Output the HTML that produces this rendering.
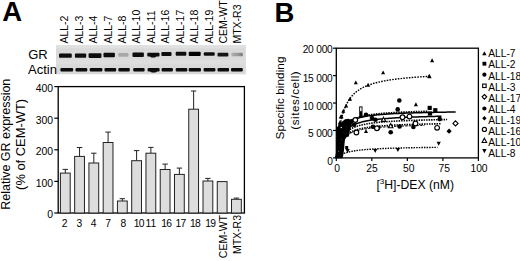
<!DOCTYPE html>
<html><head><meta charset="utf-8"><style>
html,body{margin:0;padding:0;background:#fff;width:520px;height:261px;overflow:hidden}
svg{display:block}
text{font-family:'Liberation Sans', sans-serif;fill:#000}
</style></head><body>
<svg width="520" height="261" viewBox="0 0 520 261">
<defs>
<filter id="bl" x="-20%" y="-50%" width="140%" height="200%"><feGaussianBlur stdDeviation="0.6"/></filter>
<filter id="bl2" x="-20%" y="-50%" width="140%" height="200%"><feGaussianBlur stdDeviation="0.3"/></filter>
<linearGradient id="mtx" x1="0" x2="1" y1="0" y2="0"><stop offset="0" stop-color="#b0b0b0"/><stop offset="0.6" stop-color="#989898"/><stop offset="1" stop-color="#777"/></linearGradient>
</defs>

<text x="2.2" y="21.0" font-size="27.5" font-weight="bold">A</text>
<text transform="translate(68.30,43.6) rotate(-90)" font-size="10.5">ALL-2</text>
<text transform="translate(82.72,43.6) rotate(-90)" font-size="10.5">ALL-3</text>
<text transform="translate(97.14,43.6) rotate(-90)" font-size="10.5">ALL-4</text>
<text transform="translate(111.56,43.6) rotate(-90)" font-size="10.5">ALL-7</text>
<text transform="translate(125.98,43.6) rotate(-90)" font-size="10.5">ALL-8</text>
<text transform="translate(140.40,43.6) rotate(-90)" font-size="10.5">ALL-10</text>
<text transform="translate(154.82,43.6) rotate(-90)" font-size="10.5">ALL-11</text>
<text transform="translate(169.24,43.6) rotate(-90)" font-size="10.5">ALL-16</text>
<text transform="translate(183.66,43.6) rotate(-90)" font-size="10.5">ALL-17</text>
<text transform="translate(198.08,43.6) rotate(-90)" font-size="10.5">ALL-18</text>
<text transform="translate(212.50,43.6) rotate(-90)" font-size="10.5">ALL-19</text>
<text transform="translate(226.92,43.6) rotate(-90)" font-size="10.5">CEM-WT</text>
<text transform="translate(241.34,43.6) rotate(-90)" font-size="10.5">MTX-R3</text>
<rect x="56" y="45.3" width="189.8" height="29" fill="#d9d9d9"/>
<rect x="56" y="45.3" width="189.8" height="3" fill="#e0e0e0"/><rect x="56" y="59.5" width="189.8" height="5" fill="#dedede"/>
<text x="28.2" y="59.4" font-size="13">GR</text>
<text x="28.0" y="73.5" font-size="13">Actin</text>
<rect x="59" y="53.45" width="12.80" height="4.30" rx="1.0" fill="#0a0a0a" filter="url(#bl2)"/>
<rect x="74.9" y="53.45" width="11.30" height="4.30" rx="1.0" fill="#0a0a0a" filter="url(#bl2)"/>
<rect x="88.6" y="53.15" width="12.80" height="4.80" rx="1.0" fill="#0a0a0a" filter="url(#bl2)"/>
<rect x="103.5" y="52.75" width="11.40" height="4.50" rx="1.0" fill="#080808" filter="url(#bl2)"/>
<rect x="118.4" y="53.05" width="10.10" height="3.70" rx="1.0" fill="#a8a8a8" filter="url(#bl2)"/>
<rect x="132.5" y="52.45" width="11.40" height="4.60" rx="1.0" fill="#0a0a0a" filter="url(#bl2)"/>
<rect x="147.3" y="52.75" width="12.20" height="3.70" rx="1.0" fill="#0a0a0a" filter="url(#bl2)"/>
<rect x="161.4" y="52.05" width="10.10" height="4.00" rx="1.0" fill="#0a0a0a" filter="url(#bl2)"/>
<rect x="175.7" y="51.85" width="10.60" height="3.90" rx="1.0" fill="#0a0a0a" filter="url(#bl2)"/>
<rect x="188.7" y="51.65" width="12.00" height="4.40" rx="1.0" fill="#050505" filter="url(#bl2)"/>
<rect x="203.8" y="52.25" width="10.90" height="3.50" rx="1.0" fill="#111" filter="url(#bl2)"/>
<rect x="217.5" y="52.65" width="10.90" height="3.90" rx="1.0" fill="#151515" filter="url(#bl2)"/>
<rect x="231.3" y="52.85" width="11.50" height="3.50" rx="1.0" fill="url(#mtx)" filter="url(#bl2)"/>
<rect x="60.4" y="67.9" width="12.80" height="3.7" rx="1.1" fill="#0a0a0a" filter="url(#bl2)"/>
<rect x="75.5" y="67.9" width="11.80" height="3.7" rx="1.1" fill="#0a0a0a" filter="url(#bl2)"/>
<rect x="89.7" y="67.9" width="12.70" height="3.7" rx="1.1" fill="#0a0a0a" filter="url(#bl2)"/>
<rect x="104.5" y="67.9" width="11.70" height="3.7" rx="1.1" fill="#0a0a0a" filter="url(#bl2)"/>
<rect x="118.4" y="67.9" width="11.40" height="3.7" rx="1.1" fill="#0a0a0a" filter="url(#bl2)"/>
<rect x="133.2" y="67.9" width="11.40" height="3.7" rx="1.1" fill="#0a0a0a" filter="url(#bl2)"/>
<rect x="147.6" y="67.9" width="12.00" height="3.7" rx="1.1" fill="#0a0a0a" filter="url(#bl2)"/>
<rect x="161.6" y="67.9" width="11.30" height="3.7" rx="1.1" fill="#0a0a0a" filter="url(#bl2)"/>
<rect x="175.7" y="67.9" width="11.60" height="3.7" rx="1.1" fill="#0a0a0a" filter="url(#bl2)"/>
<rect x="188.7" y="67.9" width="12.30" height="3.7" rx="1.1" fill="#0a0a0a" filter="url(#bl2)"/>
<rect x="203.6" y="67.9" width="11.80" height="3.7" rx="1.1" fill="#0a0a0a" filter="url(#bl2)"/>
<rect x="217.5" y="67.9" width="11.60" height="3.7" rx="1.1" fill="#0a0a0a" filter="url(#bl2)"/>
<rect x="231" y="67.9" width="11.80" height="3.7" rx="1.1" fill="#0a0a0a" filter="url(#bl2)"/>
<ellipse cx="153.2" cy="56.0" rx="3.0" ry="1.6" fill="#0a0a0a" filter="url(#bl2)"/>
<ellipse cx="153.6" cy="71.3" rx="3.2" ry="1.3" fill="#0a0a0a" filter="url(#bl2)"/>
<rect x="58.2" y="86.6" width="186.2" height="126.40" fill="none" stroke="#000" stroke-width="1.3"/>
<line x1="54.3" y1="213.00" x2="58.2" y2="213.00" stroke="#000" stroke-width="1.2"/>
<text x="53" y="218.30" font-size="10.4" text-anchor="end">0</text>
<line x1="54.3" y1="181.40" x2="58.2" y2="181.40" stroke="#000" stroke-width="1.2"/>
<text x="53" y="186.70" font-size="10.4" text-anchor="end">100</text>
<line x1="54.3" y1="149.80" x2="58.2" y2="149.80" stroke="#000" stroke-width="1.2"/>
<text x="53" y="155.10" font-size="10.4" text-anchor="end">200</text>
<line x1="54.3" y1="118.20" x2="58.2" y2="118.20" stroke="#000" stroke-width="1.2"/>
<text x="53" y="123.50" font-size="10.4" text-anchor="end">300</text>
<line x1="54.3" y1="86.60" x2="58.2" y2="86.60" stroke="#000" stroke-width="1.2"/>
<text x="53" y="91.90" font-size="10.4" text-anchor="end">400</text>
<line x1="65.30" y1="169.40" x2="65.30" y2="173.10" stroke="#222" stroke-width="1"/>
<line x1="62.60" y1="169.40" x2="68.00" y2="169.40" stroke="#222" stroke-width="1"/>
<rect x="60.40" y="173.10" width="9.8" height="39.90" fill="#dddddd" stroke="#222" stroke-width="1"/>
<line x1="79.56" y1="147.50" x2="79.56" y2="156.40" stroke="#222" stroke-width="1"/>
<line x1="76.86" y1="147.50" x2="82.26" y2="147.50" stroke="#222" stroke-width="1"/>
<rect x="74.66" y="156.40" width="9.8" height="56.60" fill="#dddddd" stroke="#222" stroke-width="1"/>
<line x1="93.82" y1="153.20" x2="93.82" y2="163.00" stroke="#222" stroke-width="1"/>
<line x1="91.12" y1="153.20" x2="96.52" y2="153.20" stroke="#222" stroke-width="1"/>
<rect x="88.92" y="163.00" width="9.8" height="50.00" fill="#dddddd" stroke="#222" stroke-width="1"/>
<line x1="108.08" y1="132.10" x2="108.08" y2="142.50" stroke="#222" stroke-width="1"/>
<line x1="105.38" y1="132.10" x2="110.78" y2="132.10" stroke="#222" stroke-width="1"/>
<rect x="103.18" y="142.50" width="9.8" height="70.50" fill="#dddddd" stroke="#222" stroke-width="1"/>
<line x1="122.34" y1="198.70" x2="122.34" y2="201.00" stroke="#222" stroke-width="1"/>
<line x1="119.64" y1="198.70" x2="125.04" y2="198.70" stroke="#222" stroke-width="1"/>
<rect x="117.44" y="201.00" width="9.8" height="12.00" fill="#dddddd" stroke="#222" stroke-width="1"/>
<line x1="136.60" y1="150.60" x2="136.60" y2="160.70" stroke="#222" stroke-width="1"/>
<line x1="133.90" y1="150.60" x2="139.30" y2="150.60" stroke="#222" stroke-width="1"/>
<rect x="131.70" y="160.70" width="9.8" height="52.30" fill="#dddddd" stroke="#222" stroke-width="1"/>
<line x1="150.86" y1="147.40" x2="150.86" y2="153.20" stroke="#222" stroke-width="1"/>
<line x1="148.16" y1="147.40" x2="153.56" y2="147.40" stroke="#222" stroke-width="1"/>
<rect x="145.96" y="153.20" width="9.8" height="59.80" fill="#dddddd" stroke="#222" stroke-width="1"/>
<line x1="165.12" y1="164.10" x2="165.12" y2="169.50" stroke="#222" stroke-width="1"/>
<line x1="162.42" y1="164.10" x2="167.82" y2="164.10" stroke="#222" stroke-width="1"/>
<rect x="160.22" y="169.50" width="9.8" height="43.50" fill="#dddddd" stroke="#222" stroke-width="1"/>
<line x1="179.38" y1="168.10" x2="179.38" y2="174.40" stroke="#222" stroke-width="1"/>
<line x1="176.68" y1="168.10" x2="182.08" y2="168.10" stroke="#222" stroke-width="1"/>
<rect x="174.48" y="174.40" width="9.8" height="38.60" fill="#dddddd" stroke="#222" stroke-width="1"/>
<line x1="193.64" y1="91.00" x2="193.64" y2="109.20" stroke="#222" stroke-width="1"/>
<line x1="190.94" y1="91.00" x2="196.34" y2="91.00" stroke="#222" stroke-width="1"/>
<rect x="188.74" y="109.20" width="9.8" height="103.80" fill="#dddddd" stroke="#222" stroke-width="1"/>
<line x1="207.90" y1="178.40" x2="207.90" y2="181.00" stroke="#222" stroke-width="1"/>
<line x1="205.20" y1="178.40" x2="210.60" y2="178.40" stroke="#222" stroke-width="1"/>
<rect x="203.00" y="181.00" width="9.8" height="32.00" fill="#dddddd" stroke="#222" stroke-width="1"/>
<rect x="217.26" y="181.60" width="9.8" height="31.40" fill="#dddddd" stroke="#222" stroke-width="1"/>
<line x1="236.42" y1="198.10" x2="236.42" y2="199.30" stroke="#222" stroke-width="1"/>
<line x1="233.72" y1="198.10" x2="239.12" y2="198.10" stroke="#222" stroke-width="1"/>
<rect x="231.52" y="199.30" width="9.8" height="13.70" fill="#dddddd" stroke="#222" stroke-width="1"/>
<text x="64.60" y="227.0" font-size="10.3" text-anchor="middle">2</text>
<text x="79.30" y="227.0" font-size="10.3" text-anchor="middle">3</text>
<text x="93.50" y="227.0" font-size="10.3" text-anchor="middle">4</text>
<text x="108.10" y="227.0" font-size="10.3" text-anchor="middle">7</text>
<text x="123.40" y="227.0" font-size="10.3" text-anchor="middle">8</text>
<text x="138.75" y="227.0" font-size="10.3" text-anchor="middle" letter-spacing="-0.7">10</text>
<text x="150.80" y="227.0" font-size="10.3" text-anchor="middle">11</text>
<text x="166.35" y="227.0" font-size="10.3" text-anchor="middle" letter-spacing="-0.7">16</text>
<text x="180.45" y="227.0" font-size="10.3" text-anchor="middle" letter-spacing="-0.7">17</text>
<text x="195.10" y="227.0" font-size="10.3" text-anchor="middle" letter-spacing="-0.7">18</text>
<text x="210.25" y="227.0" font-size="10.3" text-anchor="middle" letter-spacing="-0.7">19</text>
<text transform="translate(226.6,215.0) rotate(-90)" font-size="10.5" text-anchor="end">CEM-WT</text>
<text transform="translate(241.0,215.0) rotate(-90)" font-size="10.5" text-anchor="end">MTX-R3</text>
<text transform="translate(10.2,144.2) rotate(-90)" font-size="12.4" text-anchor="middle" textLength="131" lengthAdjust="spacingAndGlyphs">Relative GR expression</text>
<text transform="translate(25.4,144.4) rotate(-90)" font-size="12.4" text-anchor="middle" textLength="91" lengthAdjust="spacingAndGlyphs">(% of CEM-WT)</text>
<text x="274.6" y="21.6" font-size="27.5" font-weight="bold">B</text>
<rect x="336.3" y="48.2" width="142.10" height="109.70" fill="none" stroke="#000" stroke-width="1.3"/>
<line x1="333" y1="157.90" x2="336.3" y2="157.90" stroke="#000" stroke-width="1.2"/>
<text x="332.6" y="164.8" font-size="10.2" text-anchor="end" letter-spacing="-0.2">0</text>
<line x1="333" y1="130.47" x2="336.3" y2="130.47" stroke="#000" stroke-width="1.2"/>
<text x="332.6" y="136.9" font-size="10.2" text-anchor="end" letter-spacing="-0.2">5 000</text>
<line x1="333" y1="103.05" x2="336.3" y2="103.05" stroke="#000" stroke-width="1.2"/>
<text x="332.6" y="109.6" font-size="10.2" text-anchor="end" letter-spacing="-0.2">10 000</text>
<line x1="333" y1="75.62" x2="336.3" y2="75.62" stroke="#000" stroke-width="1.2"/>
<text x="332.6" y="81.9" font-size="10.2" text-anchor="end" letter-spacing="-0.2">15 000</text>
<line x1="333" y1="48.20" x2="336.3" y2="48.20" stroke="#000" stroke-width="1.2"/>
<text x="332.6" y="53.3" font-size="10.2" text-anchor="end" letter-spacing="-0.2">20 000</text>
<line x1="336.30" y1="157.9" x2="336.30" y2="161" stroke="#000" stroke-width="1.2"/>
<text x="337.00" y="171.9" font-size="10.3" text-anchor="middle">0</text>
<line x1="371.82" y1="157.9" x2="371.82" y2="161" stroke="#000" stroke-width="1.2"/>
<text x="372.10" y="171.9" font-size="10.3" text-anchor="middle">25</text>
<line x1="407.35" y1="157.9" x2="407.35" y2="161" stroke="#000" stroke-width="1.2"/>
<text x="408.70" y="171.9" font-size="10.3" text-anchor="middle">50</text>
<line x1="442.88" y1="157.9" x2="442.88" y2="161" stroke="#000" stroke-width="1.2"/>
<text x="444.20" y="171.9" font-size="10.3" text-anchor="middle">75</text>
<line x1="478.40" y1="157.9" x2="478.40" y2="161" stroke="#000" stroke-width="1.2"/>
<text x="479.00" y="171.9" font-size="10.3" text-anchor="middle">100</text>
<text x="376.4" y="188.7" font-size="12.2">[<tspan font-size="8" dy="-4.5">3</tspan><tspan dy="4.5">H]-DEX (nM)</tspan></text>
<text transform="translate(284.2,98.0) rotate(-90)" font-size="11.8" text-anchor="middle" textLength="83" lengthAdjust="spacingAndGlyphs">Specific binding</text>
<text transform="translate(298.6,100.5) rotate(-90)" font-size="11.6" text-anchor="middle" textLength="58.5" lengthAdjust="spacing">(sites/cell)</text>
<path d="M336.5,158.2 L336.5,128 L338.3,125.5 L339,122.5 L341.5,122.3 L343.5,120.5 L345,119.2 L348.5,118.8 L351,120.3 L352,123.5 L351.2,126.5 L350,129 L349.6,133 L348.8,136.5 L346.5,137.2 L345,139.5 L344.6,143 L344.3,146.5 L344,150 L343.6,153.5 L343,156.5 L342.5,158.2 Z" fill="#000"/>
<circle cx="341.2" cy="127.5" r="0.7" fill="#fff"/>
<circle cx="343.6" cy="133.2" r="0.6" fill="#fff"/>
<circle cx="339.6" cy="143.5" r="0.6" fill="#fff"/>
<circle cx="341.8" cy="139" r="0.5" fill="#fff"/>
<circle cx="346.5" cy="124.5" r="0.6" fill="#fff"/>
<circle cx="338.6" cy="151" r="0.5" fill="#fff"/>
<circle cx="340.5" cy="134.5" r="0.5" fill="#fff"/>
<path d="M336.30,157.90 L336.31,157.74 L336.35,157.28 L336.40,156.52 L336.48,155.48 L336.59,154.18 L336.71,152.64 L336.86,150.89 L337.03,148.97 L337.22,146.89 L337.44,144.70 L337.68,142.42 L337.94,140.08 L338.23,137.70 L338.54,135.31 L338.87,132.93 L339.22,130.57 L339.60,128.24 L339.99,125.96 L340.42,123.74 L340.86,121.59 L341.33,119.51 L341.82,117.50 L342.33,115.57 L342.87,113.71 L343.43,111.93 L344.01,110.23 L344.61,108.61 L345.24,107.06 L345.89,105.58 L346.56,104.17 L347.26,102.83 L347.98,101.55 L348.72,100.33 L349.48,99.18 L350.27,98.07 L351.08,97.03 L351.91,96.03 L352.77,95.08 L353.64,94.18 L354.54,93.32 L355.47,92.50 L356.42,91.73 L357.38,90.98 L358.38,90.28 L359.39,89.60 L360.43,88.96 L361.49,88.35 L362.57,87.76 L363.68,87.20 L364.81,86.67 L365.96,86.16 L367.13,85.67 L368.33,85.20 L369.55,84.75 L370.79,84.33 L372.06,83.92 L373.35,83.53 L374.66,83.15 L375.99,82.79 L377.35,82.44 L378.73,82.11 L380.13,81.79 L381.56,81.48 L383.01,81.19 L384.48,80.91 L385.97,80.64 L387.49,80.37 L389.03,80.12 L390.59,79.88 L392.18,79.64 L393.78,79.42 L395.41,79.20 L397.07,78.99 L398.74,78.79 L400.44,78.59 L402.16,78.41 L403.91,78.22 L405.68,78.05 L407.47,77.88 L409.28,77.71 L411.12,77.56 L412.97,77.40 L414.86,77.25 L416.76,77.11 L418.69,76.97 L420.64,76.83 L422.61,76.70 L424.61,76.58 L426.62,76.45 L428.66,76.34" fill="none" stroke="#000" stroke-width="1.4" stroke-dasharray="1.6,1.2"/>
<path d="M336.30,157.90 L336.31,157.74 L336.36,157.25 L336.43,156.47 L336.54,155.41 L336.67,154.12 L336.83,152.64 L337.02,151.02 L337.24,149.29 L337.49,147.50 L337.77,145.69 L338.08,143.88 L338.42,142.10 L338.79,140.37 L339.19,138.70 L339.62,137.11 L340.07,135.59 L340.56,134.15 L341.07,132.79 L341.62,131.52 L342.19,130.32 L342.80,129.20 L343.43,128.15 L344.10,127.17 L344.79,126.26 L345.51,125.41 L346.26,124.62 L347.04,123.87 L347.85,123.18 L348.69,122.54 L349.56,121.93 L350.46,121.37 L351.39,120.84 L352.35,120.35 L353.34,119.89 L354.35,119.45 L355.40,119.05 L356.47,118.66 L357.58,118.30 L358.71,117.97 L359.88,117.65 L361.07,117.35 L362.29,117.07 L363.55,116.80 L364.83,116.55 L366.14,116.31 L367.48,116.09 L368.85,115.88 L370.25,115.67 L371.68,115.48 L373.14,115.30 L374.63,115.13 L376.15,114.97 L377.69,114.81 L379.27,114.66 L380.88,114.52 L382.51,114.39 L384.18,114.26 L385.87,114.14 L387.60,114.02 L389.35,113.91 L391.13,113.80 L392.95,113.70 L394.79,113.60 L396.66,113.51 L398.56,113.42 L400.49,113.33 L402.45,113.25 L404.44,113.17 L406.46,113.09 L408.51,113.02 L410.59,112.95 L412.69,112.88 L414.83,112.82 L417.00,112.76 L419.19,112.70 L421.42,112.64 L423.67,112.58 L425.96,112.53 L428.27,112.48 L430.61,112.43 L432.98,112.38 L435.39,112.33 L437.82,112.29 L440.28,112.24 L442.77,112.20 L445.29,112.16 L447.84,112.12 L450.42,112.08 L453.03,112.05 L455.66,112.01" fill="none" stroke="#000" stroke-width="1.5"/>
<path d="M336.30,157.90 L336.31,157.78 L336.35,157.42 L336.40,156.83 L336.48,156.03 L336.58,155.04 L336.71,153.89 L336.85,152.59 L337.02,151.19 L337.22,149.71 L337.43,148.17 L337.67,146.60 L337.93,145.02 L338.21,143.45 L338.52,141.90 L338.85,140.38 L339.20,138.90 L339.57,137.48 L339.97,136.11 L340.38,134.80 L340.83,133.55 L341.29,132.36 L341.78,131.23 L342.29,130.16 L342.82,129.15 L343.37,128.19 L343.95,127.28 L344.55,126.43 L345.17,125.63 L345.82,124.87 L346.48,124.15 L347.17,123.48 L347.89,122.84 L348.62,122.24 L349.38,121.68 L350.16,121.14 L350.96,120.64 L351.79,120.16 L352.64,119.71 L353.51,119.29 L354.40,118.88 L355.32,118.50 L356.26,118.14 L357.22,117.80 L358.21,117.47 L359.21,117.17 L360.24,116.87 L361.30,116.60 L362.37,116.33 L363.47,116.08 L364.59,115.84 L365.73,115.62 L366.90,115.40 L368.08,115.19 L369.30,115.00 L370.53,114.81 L371.79,114.63 L373.06,114.46 L374.36,114.29 L375.69,114.14 L377.04,113.99 L378.40,113.84 L379.80,113.70 L381.21,113.57 L382.65,113.45 L384.11,113.32 L385.59,113.21 L387.09,113.09 L388.62,112.99 L390.17,112.88 L391.75,112.78 L393.34,112.69 L394.96,112.60 L396.60,112.51 L398.26,112.42 L399.95,112.34 L401.66,112.26 L403.39,112.18 L405.14,112.11 L406.92,112.04 L408.72,111.97 L410.54,111.90 L412.38,111.84 L414.25,111.77 L416.14,111.71 L418.05,111.66 L419.99,111.60 L421.95,111.54 L423.93,111.49 L425.93,111.44 L427.95,111.39" fill="none" stroke="#000" stroke-width="1.8" stroke-dasharray="1.5,1.0"/>
<path d="M336.30,157.90 L336.31,157.80 L336.35,157.50 L336.42,157.02 L336.51,156.35 L336.62,155.53 L336.77,154.57 L336.94,153.48 L337.13,152.30 L337.35,151.05 L337.60,149.74 L337.87,148.40 L338.17,147.04 L338.49,145.68 L338.84,144.33 L339.22,143.00 L339.62,141.71 L340.05,140.45 L340.51,139.24 L340.99,138.07 L341.49,136.95 L342.03,135.88 L342.58,134.86 L343.17,133.89 L343.78,132.97 L344.41,132.10 L345.08,131.27 L345.76,130.49 L346.48,129.74 L347.22,129.04 L347.98,128.38 L348.78,127.75 L349.59,127.16 L350.44,126.60 L351.31,126.07 L352.20,125.57 L353.12,125.10 L354.07,124.65 L355.05,124.23 L356.05,123.83 L357.07,123.45 L358.12,123.09 L359.20,122.75 L360.30,122.42 L361.43,122.11 L362.59,121.82 L363.77,121.54 L364.98,121.28 L366.21,121.03 L367.47,120.79 L368.75,120.56 L370.07,120.34 L371.40,120.13 L372.77,119.94 L374.16,119.75 L375.57,119.57 L377.01,119.40 L378.48,119.23 L379.97,119.07 L381.49,118.92 L383.04,118.78 L384.61,118.64 L386.20,118.51 L387.83,118.38 L389.47,118.26 L391.15,118.14 L392.85,118.03 L394.58,117.92 L396.33,117.82 L398.11,117.72 L399.91,117.62 L401.74,117.53 L403.60,117.44 L405.48,117.35 L407.39,117.27 L409.32,117.19 L411.28,117.11 L413.27,117.04 L415.28,116.97 L417.32,116.90 L419.38,116.83 L421.47,116.77 L423.59,116.70 L425.73,116.64 L427.90,116.58 L430.09,116.53 L432.31,116.47 L434.56,116.42 L436.83,116.37 L439.13,116.32 L441.45,116.27" fill="none" stroke="#000" stroke-width="1.5"/>
<path d="M336.30,157.90 L336.31,157.80 L336.35,157.52 L336.42,157.05 L336.52,156.40 L336.64,155.61 L336.79,154.68 L336.97,153.65 L337.18,152.52 L337.41,151.32 L337.67,150.08 L337.96,148.81 L338.27,147.52 L338.61,146.24 L338.98,144.98 L339.38,143.74 L339.80,142.53 L340.25,141.36 L340.73,140.23 L341.24,139.15 L341.77,138.12 L342.33,137.14 L342.92,136.20 L343.54,135.32 L344.18,134.48 L344.85,133.68 L345.55,132.93 L346.28,132.22 L347.03,131.55 L347.81,130.91 L348.62,130.32 L349.45,129.75 L350.31,129.22 L351.20,128.72 L352.12,128.24 L353.06,127.79 L354.03,127.37 L355.03,126.97 L356.06,126.59 L357.11,126.23 L358.19,125.89 L359.30,125.57 L360.44,125.27 L361.60,124.98 L362.79,124.71 L364.01,124.45 L365.25,124.20 L366.53,123.97 L367.83,123.74 L369.15,123.53 L370.51,123.33 L371.89,123.14 L373.30,122.95 L374.74,122.78 L376.20,122.61 L377.69,122.45 L379.21,122.30 L380.76,122.16 L382.33,122.02 L383.93,121.88 L385.56,121.76 L387.22,121.63 L388.90,121.52 L390.61,121.40 L392.35,121.30 L394.11,121.19 L395.91,121.09 L397.73,121.00 L399.57,120.91 L401.45,120.82 L403.35,120.74 L405.28,120.65 L407.24,120.58 L409.22,120.50 L411.23,120.43 L413.27,120.36 L415.34,120.29 L417.43,120.22 L419.55,120.16 L421.70,120.10 L423.88,120.04 L426.08,119.99 L428.31,119.93 L430.57,119.88 L432.85,119.83 L435.16,119.78 L437.50,119.73 L439.87,119.68 L442.27,119.64 L444.69,119.59 L447.14,119.55" fill="none" stroke="#000" stroke-width="1.6" stroke-dasharray="1.5,1.0"/>
<path d="M336.30,157.90 L336.31,157.82 L336.35,157.57 L336.42,157.18 L336.51,156.63 L336.62,155.96 L336.77,155.17 L336.94,154.28 L337.13,153.31 L337.35,152.28 L337.60,151.21 L337.87,150.11 L338.17,148.99 L338.49,147.88 L338.84,146.77 L339.22,145.69 L339.62,144.62 L340.05,143.59 L340.51,142.60 L340.99,141.64 L341.49,140.72 L342.03,139.84 L342.58,139.01 L343.17,138.21 L343.78,137.46 L344.41,136.74 L345.08,136.06 L345.76,135.42 L346.48,134.81 L347.22,134.24 L347.98,133.69 L348.78,133.18 L349.59,132.70 L350.44,132.24 L351.31,131.80 L352.20,131.39 L353.12,131.00 L354.07,130.64 L355.05,130.29 L356.05,129.96 L357.07,129.65 L358.12,129.35 L359.20,129.07 L360.30,128.81 L361.43,128.55 L362.59,128.32 L363.77,128.09 L364.98,127.87 L366.21,127.66 L367.47,127.47 L368.75,127.28 L370.07,127.10 L371.40,126.93 L372.77,126.77 L374.16,126.62 L375.57,126.47 L377.01,126.33 L378.48,126.19 L379.97,126.06 L381.49,125.94 L383.04,125.82 L384.61,125.71 L386.20,125.60 L387.83,125.49 L389.47,125.39 L391.15,125.30 L392.85,125.20 L394.58,125.12 L396.33,125.03 L398.11,124.95 L399.91,124.87 L401.74,124.79 L403.60,124.72 L405.48,124.65 L407.39,124.58 L409.32,124.52 L411.28,124.45 L413.27,124.39 L415.28,124.33 L417.32,124.28 L419.38,124.22 L421.47,124.17 L423.59,124.12 L425.73,124.07 L427.90,124.02 L430.09,123.97 L432.31,123.93 L434.56,123.89 L436.83,123.84 L439.13,123.80 L441.45,123.76" fill="none" stroke="#000" stroke-width="1.6" stroke-dasharray="1.5,1.0"/>
<path d="M336.30,157.90 L336.31,157.83 L336.34,157.64 L336.40,157.31 L336.47,156.87 L336.57,156.32 L336.69,155.67 L336.83,154.94 L337.00,154.13 L337.18,153.26 L337.39,152.35 L337.62,151.40 L337.87,150.44 L338.14,149.46 L338.43,148.47 L338.75,147.50 L339.08,146.54 L339.44,145.59 L339.82,144.68 L340.23,143.78 L340.65,142.92 L341.10,142.09 L341.56,141.28 L342.05,140.52 L342.57,139.78 L343.10,139.08 L343.65,138.41 L344.23,137.77 L344.83,137.17 L345.45,136.59 L346.09,136.04 L346.75,135.52 L347.44,135.02 L348.14,134.55 L348.87,134.10 L349.62,133.68 L350.40,133.27 L351.19,132.89 L352.01,132.53 L352.84,132.18 L353.70,131.85 L354.58,131.54 L355.49,131.24 L356.41,130.96 L357.36,130.69 L358.33,130.43 L359.32,130.19 L360.33,129.96 L361.36,129.73 L362.42,129.52 L363.49,129.32 L364.59,129.13 L365.71,128.94 L366.85,128.76 L368.02,128.60 L369.20,128.43 L370.41,128.28 L371.64,128.13 L372.89,127.99 L374.16,127.85 L375.46,127.72 L376.77,127.60 L378.11,127.48 L379.47,127.36 L380.85,127.25 L382.25,127.15 L383.68,127.05 L385.13,126.95 L386.59,126.85 L388.08,126.76 L389.60,126.67 L391.13,126.59 L392.69,126.51 L394.26,126.43 L395.86,126.35 L397.48,126.28 L399.12,126.21 L400.79,126.14 L402.47,126.08 L404.18,126.01 L405.91,125.95 L407.66,125.89 L409.44,125.84 L411.23,125.78 L413.05,125.73 L414.88,125.68 L416.74,125.62 L418.63,125.58 L420.53,125.53 L422.46,125.48 L424.40,125.44" fill="none" stroke="#000" stroke-width="1.0" stroke-dasharray="2.5,1.2"/>
<path d="M339.14,155.70 L339.15,155.69 L339.19,155.67 L339.25,155.63 L339.34,155.58 L339.45,155.51 L339.58,155.43 L339.74,155.34 L339.92,155.23 L340.13,155.11 L340.36,154.99 L340.61,154.85 L340.89,154.71 L341.19,154.56 L341.52,154.40 L341.87,154.23 L342.25,154.07 L342.65,153.90 L343.08,153.72 L343.52,153.55 L344.00,153.37 L344.50,153.19 L345.02,153.02 L345.56,152.84 L346.13,152.67 L346.73,152.50 L347.35,152.33 L347.99,152.16 L348.66,151.99 L349.35,151.83 L350.07,151.68 L350.81,151.52 L351.57,151.37 L352.36,151.22 L353.18,151.08 L354.01,150.94 L354.88,150.80 L355.76,150.67 L356.67,150.54 L357.61,150.42 L358.57,150.30 L359.55,150.18 L360.56,150.07 L361.59,149.96 L362.64,149.85 L363.73,149.75 L364.83,149.65 L365.96,149.55 L367.11,149.46 L368.29,149.37 L369.49,149.28 L370.72,149.20 L371.97,149.11 L373.24,149.03 L374.54,148.96 L375.87,148.88 L377.21,148.81 L378.58,148.74 L379.98,148.68 L381.40,148.61 L382.85,148.55 L384.31,148.49 L385.81,148.43 L387.33,148.37 L388.87,148.32 L390.43,148.26 L392.02,148.21 L393.64,148.16 L395.28,148.11 L396.94,148.07 L398.63,148.02 L400.34,147.98 L402.08,147.93 L403.84,147.89 L405.62,147.85 L407.43,147.81 L409.26,147.77 L411.12,147.74 L413.00,147.70 L414.91,147.67 L416.84,147.63 L418.79,147.60 L420.77,147.57 L422.77,147.54 L424.80,147.51 L426.85,147.48 L428.93,147.45 L431.03,147.42 L433.15,147.40 L435.30,147.37 L437.48,147.35" fill="none" stroke="#000" stroke-width="1.4" stroke-dasharray="1.5,1.1"/>
<rect x="345.2" y="146" width="3" height="3" fill="#000"/>
<rect x="359.2" y="106.4" width="3.3" height="11.2" fill="#000"/><rect x="360.1" y="107.4" width="1.5" height="3.8" fill="#fff"/>
<path d="M340.80,114.55 L342.85,118.44 L338.75,118.44 Z" fill="#000"/>
<path d="M343.30,108.84 L345.35,112.74 L341.25,112.74 Z" fill="#000"/>
<path d="M346.20,103.65 L348.25,107.54 L344.15,107.54 Z" fill="#000"/>
<path d="M350.00,96.75 L352.05,100.64 L347.95,100.64 Z" fill="#000"/>
<path d="M355.80,80.45 L357.85,84.34 L353.75,84.34 Z" fill="#000"/>
<path d="M368.10,82.75 L370.15,86.64 L366.05,86.64 Z" fill="#000"/>
<path d="M383.10,70.45 L385.15,74.34 L381.05,74.34 Z" fill="#000"/>
<path d="M429.20,73.75 L431.25,77.64 L427.15,77.64 Z" fill="#000"/>
<path d="M432.10,58.34 L434.15,62.24 L430.05,62.24 Z" fill="#000"/>
<path d="M429.50,74.25 L431.55,78.14 L427.45,78.14 Z" fill="#000"/>
<path d="M339.90,120.34 L341.95,124.24 L337.85,124.24 Z" fill="#000"/>
<path d="M341.50,114.34 L343.55,118.24 L339.45,118.24 Z" fill="#000"/>
<path d="M340.30,121.25 L342.35,125.14 L338.25,125.14 Z" fill="#000"/>
<rect x="427.62" y="105.82" width="4.16" height="4.16" fill="#000"/>
<rect x="433.22" y="108.12" width="4.16" height="4.16" fill="#000"/>
<rect x="427.92" y="111.42" width="4.16" height="4.16" fill="#000"/>
<circle cx="399.30" cy="100.50" r="2.30" fill="#000"/>
<circle cx="366.00" cy="114.80" r="2.30" fill="#000"/>
<circle cx="397.70" cy="109.40" r="2.30" fill="#000"/>
<circle cx="413.40" cy="126.90" r="2.30" fill="#000"/>
<circle cx="390.70" cy="132.20" r="2.30" fill="#000"/>
<circle cx="372.00" cy="118.00" r="2.30" fill="#000"/>
<circle cx="439.70" cy="119.10" r="2.30" fill="#000"/>
<circle cx="373.00" cy="126.80" r="2.30" fill="#000"/>
<circle cx="399.60" cy="126.50" r="2.30" fill="#000"/>
<circle cx="348.20" cy="121.50" r="2.30" fill="#000"/>
<circle cx="351.50" cy="121.20" r="2.30" fill="#000"/>
<circle cx="354.00" cy="124.80" r="2.30" fill="#000"/>
<circle cx="375.40" cy="119.80" r="2.30" fill="#000"/>
<circle cx="378.20" cy="127.70" r="2.30" fill="#000"/>
<path d="M455.50,120.80 L458.10,123.40 L455.50,126.00 L452.90,123.40 Z" fill="#fff" stroke="#000" stroke-width="1.1"/>
<path d="M449.10,128.60 L451.70,131.20 L449.10,133.80 L446.50,131.20 Z" fill="#000"/>
<circle cx="402.50" cy="117.20" r="2.34" fill="#fff" stroke="#000" stroke-width="1.15"/>
<circle cx="437.10" cy="127.80" r="2.34" fill="#fff" stroke="#000" stroke-width="1.15"/>
<circle cx="409.50" cy="116.60" r="2.34" fill="#fff" stroke="#000" stroke-width="1.15"/>
<circle cx="356.40" cy="132.50" r="2.34" fill="#fff" stroke="#000" stroke-width="1.15"/>
<circle cx="376.90" cy="128.30" r="2.34" fill="#fff" stroke="#000" stroke-width="1.15"/>
<circle cx="355.30" cy="120.00" r="2.34" fill="#fff" stroke="#000" stroke-width="1.15"/>
<circle cx="415.50" cy="123.40" r="2.34" fill="#fff" stroke="#000" stroke-width="1.15"/>
<path d="M383.50,117.18 L385.70,121.36 L381.30,121.36 Z" fill="#fff" stroke="#000" stroke-width="1.1"/>
<path d="M390.70,123.58 L392.90,127.76 L388.50,127.76 Z" fill="#fff" stroke="#000" stroke-width="1.1"/>
<path d="M415.90,102.25 L417.95,106.14 L413.85,106.14 Z" fill="#000"/>
<path d="M366.00,129.15 L368.05,133.04 L363.95,133.04 Z" fill="#000"/>
<path d="M347.60,152.91 L349.70,148.92 L345.50,148.92 Z" fill="#000"/>
<path d="M375.20,153.11 L377.30,149.12 L373.10,149.12 Z" fill="#000"/>
<path d="M397.90,151.91 L400.00,147.92 L395.80,147.92 Z" fill="#000"/>
<path d="M438.70,145.71 L440.80,141.72 L436.60,141.72 Z" fill="#000"/>
<path d="M484.40,51.18 L486.60,55.36 L482.20,55.36 Z" fill="#000"/>
<text x="488.3" y="57.40" font-size="10.2">ALL-7</text>
<rect x="482.48" y="61.78" width="3.84" height="3.84" fill="#000"/>
<text x="488.3" y="68.47" font-size="10.2">ALL-2</text>
<circle cx="484.40" cy="74.70" r="2.10" fill="#000"/>
<text x="488.3" y="79.54" font-size="10.2">ALL-18</text>
<rect x="482.67" y="84.07" width="3.46" height="3.46" fill="#fff" stroke="#000" stroke-width="1.1"/>
<text x="488.3" y="90.61" font-size="10.2">ALL-3</text>
<path d="M484.40,94.50 L486.70,96.80 L484.40,99.10 L482.10,96.80 Z" fill="#fff" stroke="#000" stroke-width="1.1"/>
<text x="488.3" y="101.68" font-size="10.2">ALL-17</text>
<circle cx="484.40" cy="108.50" r="2.10" fill="#000"/>
<text x="488.3" y="112.75" font-size="10.2">ALL-4</text>
<path d="M484.40,116.00 L486.60,118.20 L484.40,120.40 L482.20,118.20 Z" fill="#000"/>
<text x="488.3" y="123.82" font-size="10.2">ALL-19</text>
<circle cx="484.40" cy="129.40" r="2.07" fill="#fff" stroke="#000" stroke-width="1.15"/>
<text x="488.3" y="134.89" font-size="10.2">ALL-16</text>
<path d="M484.40,138.17 L486.70,142.54 L482.10,142.54 Z" fill="#fff" stroke="#000" stroke-width="1.1"/>
<text x="488.3" y="145.96" font-size="10.2">ALL-10</text>
<path d="M484.40,153.22 L486.60,149.04 L482.20,149.04 Z" fill="#000"/>
<text x="488.3" y="157.03" font-size="10.2">ALL-8</text>
</svg></body></html>
